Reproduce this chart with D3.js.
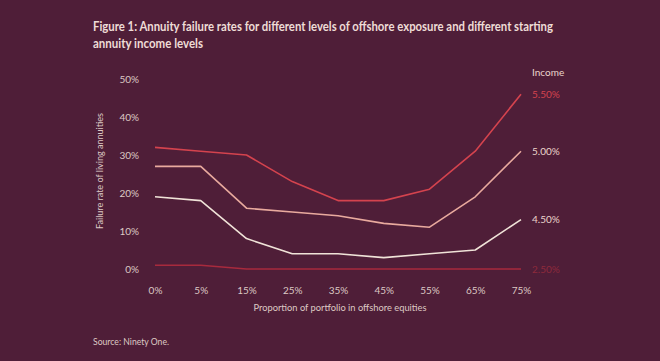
<!DOCTYPE html>
<html><head><meta charset="utf-8">
<script src="https://cdn.jsdelivr.net/npm/d3@7"></script>
<style>
html,body{margin:0;padding:0;background:#4f1e38;}
svg{display:block;}
text{font-family:Lato, "Open Sans", sans-serif;}
</style></head>
<body>
<svg id="chart" width="660" height="361"></svg>
<script>
const categories = ["0%","5%","15%","25%","35%","45%","55%","65%","75%"];
const seriesNames = ["5.50%","5.00%","4.50%","2.50%"];
const income550 = [32,31,30,23,18,18,21,31,46];
const income500 = [27,27,16,15,14,12,11,19,31];
const income450 = [19,18,8,4,4,3,4,5,13];
const income250 = [1,1,0,0,0,0,0,0,0];
const yTicks = [0,10,20,30,40,50];
const seriesValues = [income550, income500, income450, income250];
const colors = ["#d4434e","#e9aa9e","#f0e3d8","#a82a3d"];
const labelColors = ["#d4434e","#ecd5cc","#ecd5cc","#8e2a3c"];

const svg = d3.select("#chart");
svg.append("rect").attr("width",660).attr("height",361).attr("fill","#4f1e38");

const x = d3.scalePoint().domain(categories).range([155,521]);
const y = d3.scaleLinear().domain([0,50]).range([269,79]);
const txt = "#ddc9c4";
const ff = "Lato, sans-serif";

svg.append("text").attr("x",93).attr("y",30.5).attr("fill","#eedcd6")
  .attr("font-size",12.5).attr("font-weight",700).attr("textLength",460).attr("lengthAdjust","spacingAndGlyphs")
  .text("Figure 1: Annuity failure rates for different levels of offshore exposure and different starting");
svg.append("text").attr("x",93).attr("y",47.5).attr("fill","#eedcd6")
  .attr("font-size",12.5).attr("font-weight",700).attr("textLength",110).attr("lengthAdjust","spacingAndGlyphs")
  .text("annuity income levels");

const yAxis = d3.axisLeft(y).tickValues(yTicks).tickFormat(d=>d+"%").tickSize(0).tickPadding(0);
const gy = svg.append("g").attr("transform","translate(139,0)").call(yAxis);
gy.select(".domain").remove();
gy.selectAll("text").attr("fill",txt).attr("font-size",10).attr("font-family",ff);

const xAxis = d3.axisBottom(x).tickSize(0).tickPadding(0);
const gx = svg.append("g").attr("transform","translate(0,287)").call(xAxis);
gx.select(".domain").remove();
gx.selectAll("text").attr("fill",txt).attr("font-size",10).attr("font-family",ff);

svg.append("text").attr("transform","translate(103,171) rotate(-90)").attr("text-anchor","middle")
  .attr("fill",txt).attr("font-size",9.5).attr("textLength",116).attr("lengthAdjust","spacingAndGlyphs")
  .text("Failure rate of living annuities");
svg.append("text").attr("x",340).attr("y",311).attr("text-anchor","middle")
  .attr("fill",txt).attr("font-size",9.8).attr("textLength",173).attr("lengthAdjust","spacingAndGlyphs")
  .text("Proportion of portfolio in offshore equities");

const line = d3.line().x((d,i)=>x(categories[i])).y(d=>y(d));
[3,2,1,0].forEach(k=>{
  svg.append("path").datum(seriesValues[k]).attr("d",line).attr("fill","none")
    .attr("stroke",colors[k]).attr("stroke-width",1.6).attr("stroke-linejoin","round");
  svg.append("text").attr("x",532).attr("y",y(seriesValues[k][8])+3.5)
    .attr("fill",labelColors[k]).attr("font-size",10).text(seriesNames[k]);
});
svg.append("text").attr("x",532).attr("y",76).attr("fill","#ecd5cc").attr("font-size",10).text("Income");

svg.append("text").attr("x",93).attr("y",344.5).attr("fill",txt).attr("font-size",10)
  .attr("textLength",76).attr("lengthAdjust","spacingAndGlyphs").text("Source: Ninety One.");
</script>
</body></html>
